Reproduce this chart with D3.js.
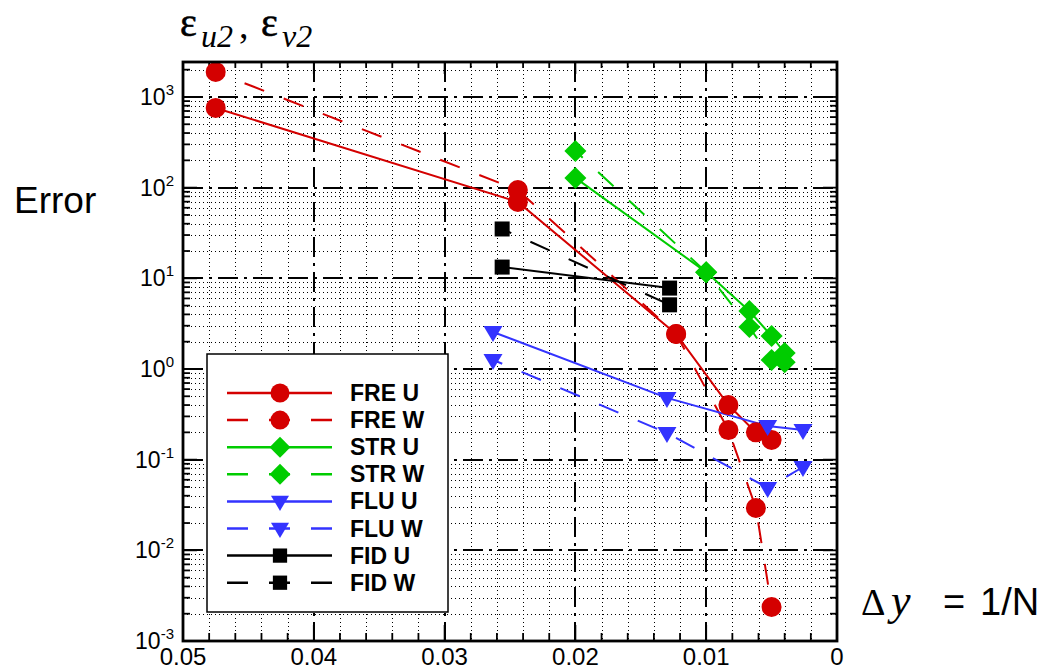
<!DOCTYPE html>
<html><head><meta charset="utf-8">
<script src="https://cdn.jsdelivr.net/npm/d3@7"></script>
<style>body{margin:0;background:#fff}svg{display:block}</style>
</head><body><svg id="c" width="1052" height="670"></svg>
<script>
// ---- data ----
const xTicks = [0.05, 0.04, 0.03, 0.02, 0.01, 0];
const xTickLabels = ["0.05", "0.04", "0.03", "0.02", "0.01", "0"];
const yDecades = [-3, -2, -1, 0, 1, 2, 3];
const yTickLabels = ["-3", "-2", "-1", "0", "1", "2", "3"];

const freX = [0.0475, 0.0244, 0.0123, 0.0083, 0.0062, 0.0050];
const freU = [757, 69.5, 2.43, 0.40, 0.20, 0.165];
const freW = [1888, 94, 2.43, 0.212, 0.0293, 0.00237];
const strX = [0.020, 0.010, 0.0067, 0.0050, 0.0040];
const strU = [128, 11.7, 4.36, 2.31, 1.50];
const strW = [254, 11.7, 2.90, 1.26, 1.19];
const fluX = [0.0263, 0.0130, 0.0053, 0.0026];
const fluU = [2.56, 0.48, 0.235, 0.212];
const fluW = [1.26, 0.197, 0.0487, 0.083];
const fidX = [0.0256, 0.0128];
const fidU = [13.3, 7.8];
const fidW = [35, 5.1];

const seriesNames = ["FRE U", "FRE W", "STR U", "STR W", "FLU U", "FLU W", "FID U", "FID W"];

// ---- setup ----
const svg = d3.select("#c");
const L = 183, R = 837, T = 62, B = 641;
const x = d3.scaleLinear().domain([0.05, 0]).range([L, R]);
const y = d3.scaleLog().domain([1e-3, 2430]).range([B, T]);

const RED = "#d40000", GREEN = "#00cc00", BLUE = "#3333ff", BLACK = "#000";
const series = [
  {name: seriesNames[0], xs: freX, ys: freU, color: RED, shape: "circle", dash: null},
  {name: seriesNames[1], xs: freX, ys: freW, color: RED, shape: "circle", dash: "21,21"},
  {name: seriesNames[2], xs: strX, ys: strU, color: GREEN, shape: "diamond", dash: null},
  {name: seriesNames[3], xs: strX, ys: strW, color: GREEN, shape: "diamond", dash: "21,21"},
  {name: seriesNames[4], xs: fluX, ys: fluU, color: BLUE, shape: "tri", dash: null},
  {name: seriesNames[5], xs: fluX, ys: fluW, color: BLUE, shape: "tri", dash: "21,21"},
  {name: seriesNames[6], xs: fidX, ys: fidU, color: BLACK, shape: "square", dash: null},
  {name: seriesNames[7], xs: fidX, ys: fidW, color: BLACK, shape: "square", dash: "21,21"}
];

const px = v => Math.round(v) + 0.5;

// ---- grid ----
const grid = svg.append("g").attr("shape-rendering", "crispEdges");
const xMinor = d3.range(1, 25).map(i => i * 0.002).filter(v => Math.abs(v * 100 - Math.round(v * 100)) > 1e-6);
const yMinor = [];
yDecades.forEach(d => { if (d < 3) for (let k = 2; k <= 9; k++) yMinor.push(k * Math.pow(10, d)); });
yMinor.push(2000);

grid.selectAll(".xm").data(xMinor).enter().append("line")
  .attr("x1", d => px(x(d))).attr("x2", d => px(x(d))).attr("y1", T).attr("y2", B)
  .attr("stroke", "#000").attr("stroke-width", 1).attr("stroke-dasharray", "1,3");
grid.selectAll(".ym").data(yMinor).enter().append("line")
  .attr("x1", L).attr("x2", R).attr("y1", d => px(y(d))).attr("y2", d => px(y(d)))
  .attr("stroke", "#000").attr("stroke-width", 1).attr("stroke-dasharray", "1,3");
grid.selectAll(".xM").data(xTicks.slice(1, -1)).enter().append("line")
  .attr("x1", d => x(d)).attr("x2", d => x(d)).attr("y1", T).attr("y2", B)
  .attr("stroke", "#000").attr("stroke-width", 2).attr("stroke-dasharray", "20,6,3,6");
grid.selectAll(".yM").data(yDecades.slice(1)).enter().append("line")
  .attr("x1", L).attr("x2", R).attr("y1", d => y(Math.pow(10, d))).attr("y2", d => y(Math.pow(10, d)))
  .attr("stroke", "#000").attr("stroke-width", 2).attr("stroke-dasharray", "20,6,3,6");

// ---- ticks (all four sides, inward) ----
const tk = svg.append("g").attr("stroke", "#000").attr("stroke-width", 1.8);
xTicks.forEach(v => {
  tk.append("line").attr("x1", x(v)).attr("x2", x(v)).attr("y1", B).attr("y2", B - 16);
  tk.append("line").attr("x1", x(v)).attr("x2", x(v)).attr("y1", T).attr("y2", T + 12);
});
xMinor.forEach(v => {
  tk.append("line").attr("x1", x(v)).attr("x2", x(v)).attr("y1", B).attr("y2", B - 8);
  tk.append("line").attr("x1", x(v)).attr("x2", x(v)).attr("y1", T).attr("y2", T + 6);
});
yDecades.forEach(d => {
  const v = Math.pow(10, d);
  tk.append("line").attr("x1", L).attr("x2", L + 14).attr("y1", y(v)).attr("y2", y(v));
  tk.append("line").attr("x1", R).attr("x2", R - 14).attr("y1", y(v)).attr("y2", y(v));
});
yMinor.forEach(v => {
  tk.append("line").attr("x1", L).attr("x2", L + 7).attr("y1", y(v)).attr("y2", y(v));
  tk.append("line").attr("x1", R).attr("x2", R - 7).attr("y1", y(v)).attr("y2", y(v));
});

// ---- data ----
function marker(g, shape, cx, cy, color, s) {
  s = s || 1;
  if (shape === "circle") g.append("circle").attr("cx", cx).attr("cy", cy).attr("r", 10 * s).attr("fill", color);
  else if (shape === "diamond") g.append("path").attr("d", `M${cx},${cy - 11 * s}L${cx + 11 * s},${cy}L${cx},${cy + 11 * s}L${cx - 11 * s},${cy}Z`).attr("fill", color);
  else if (shape === "tri") g.append("path").attr("d", `M${cx - 9.5 * s},${cy - 6 * s}L${cx + 9.5 * s},${cy - 6 * s}L${cx},${cy + 10 * s}Z`).attr("fill", color);
  else if (shape === "square") g.append("rect").attr("x", cx - 7.5 * s).attr("y", cy - 7.5 * s).attr("width", 15 * s).attr("height", 15 * s).attr("fill", color);
}
const line = d3.line().x(d => x(d[0])).y(d => y(d[1]));
const dataG = svg.append("g");
series.forEach(sr => {
  const pts = sr.xs.map((v, i) => [v, sr.ys[i]]);
  dataG.append("path").attr("d", line(pts)).attr("fill", "none").attr("stroke", sr.color)
    .attr("stroke-width", 2).attr("stroke-dasharray", sr.dash)
    .attr("stroke-dashoffset", sr.dash ? 11 : null);
});
series.forEach(sr => {
  sr.xs.forEach((v, i) => marker(dataG, sr.shape, x(v), y(sr.ys[i]), sr.color));
});

// ---- frame ----
svg.append("rect").attr("x", L).attr("y", T).attr("width", R - L).attr("height", B - T)
  .attr("fill", "none").attr("stroke", "#000").attr("stroke-width", 2.8);

// ---- tick labels ----
const font = "'Liberation Sans', Arial, sans-serif";
svg.selectAll(".xl").data(xTicks).enter().append("text")
  .attr("x", d => x(d)).attr("y", 665).attr("text-anchor", "middle")
  .attr("font-family", font).attr("font-size", 24)
  .text((d, i) => xTickLabels[i]);
yDecades.forEach((d, i) => {
  const t = svg.append("text").attr("x", 174).attr("y", y(Math.pow(10, d)) + 8)
    .attr("text-anchor", "end").attr("font-family", font).attr("font-size", 23);
  t.append("tspan").text("10");
  t.append("tspan").attr("dy", -10).attr("font-size", 15).text(yTickLabels[i]);
});

// ---- legend ----
const lg = svg.append("g");
lg.append("rect").attr("x", 207).attr("y", 354).attr("width", 241).attr("height", 258)
  .attr("fill", "#fff").attr("stroke", "#000").attr("stroke-width", 1.5);
series.forEach((sr, i) => {
  const ry = 393 + i * 27.1;
  lg.append("line").attr("x1", 227).attr("x2", 332).attr("y1", ry).attr("y2", ry)
    .attr("stroke", sr.color).attr("stroke-width", 2.5).attr("stroke-dasharray", sr.dash);
  marker(lg, sr.shape, 280, ry, sr.color, 0.95);
  lg.append("text").attr("x", 350).attr("y", ry + 8).attr("font-family", font)
    .attr("font-weight", "bold").attr("font-size", 23).attr("fill", "#000").text(sr.name);
});

// ---- titles ----
const serif = "'Liberation Serif', 'Times New Roman', serif";
const tt = svg.append("text").attr("font-family", serif).attr("fill", "#000");
tt.append("tspan").attr("x", 180).attr("y", 36).attr("font-size", 40).attr("stroke", "#000").attr("stroke-width", 0.6).text("ε");
tt.append("tspan").attr("x", 201).attr("y", 47).attr("font-size", 32).attr("font-style", "italic").text("u2");
tt.append("tspan").attr("x", 239).attr("y", 38).attr("font-size", 38).text(",");
tt.append("tspan").attr("x", 261).attr("y", 36).attr("font-size", 40).attr("stroke", "#000").attr("stroke-width", 0.6).text("ε");
tt.append("tspan").attr("x", 282).attr("y", 47).attr("font-size", 32).attr("font-style", "italic").text("v2");

svg.append("text").attr("x", 14).attr("y", 213).attr("font-family", font).attr("font-size", 37).text("Error");

const dx = svg.append("text").attr("fill", "#000");
dx.append("tspan").attr("x", 861).attr("y", 615).attr("font-family", serif).attr("font-size", 38).text("Δ");
dx.append("tspan").attr("x", 891).attr("y", 615).attr("font-family", serif).attr("font-style", "italic").attr("font-size", 44).text("y");
dx.append("tspan").attr("x", 943).attr("y", 615).attr("font-family", font).attr("font-size", 38).text("=");
dx.append("tspan").attr("x", 980).attr("y", 615).attr("font-family", font).attr("font-size", 38).text("1/N");
</script></body></html>
